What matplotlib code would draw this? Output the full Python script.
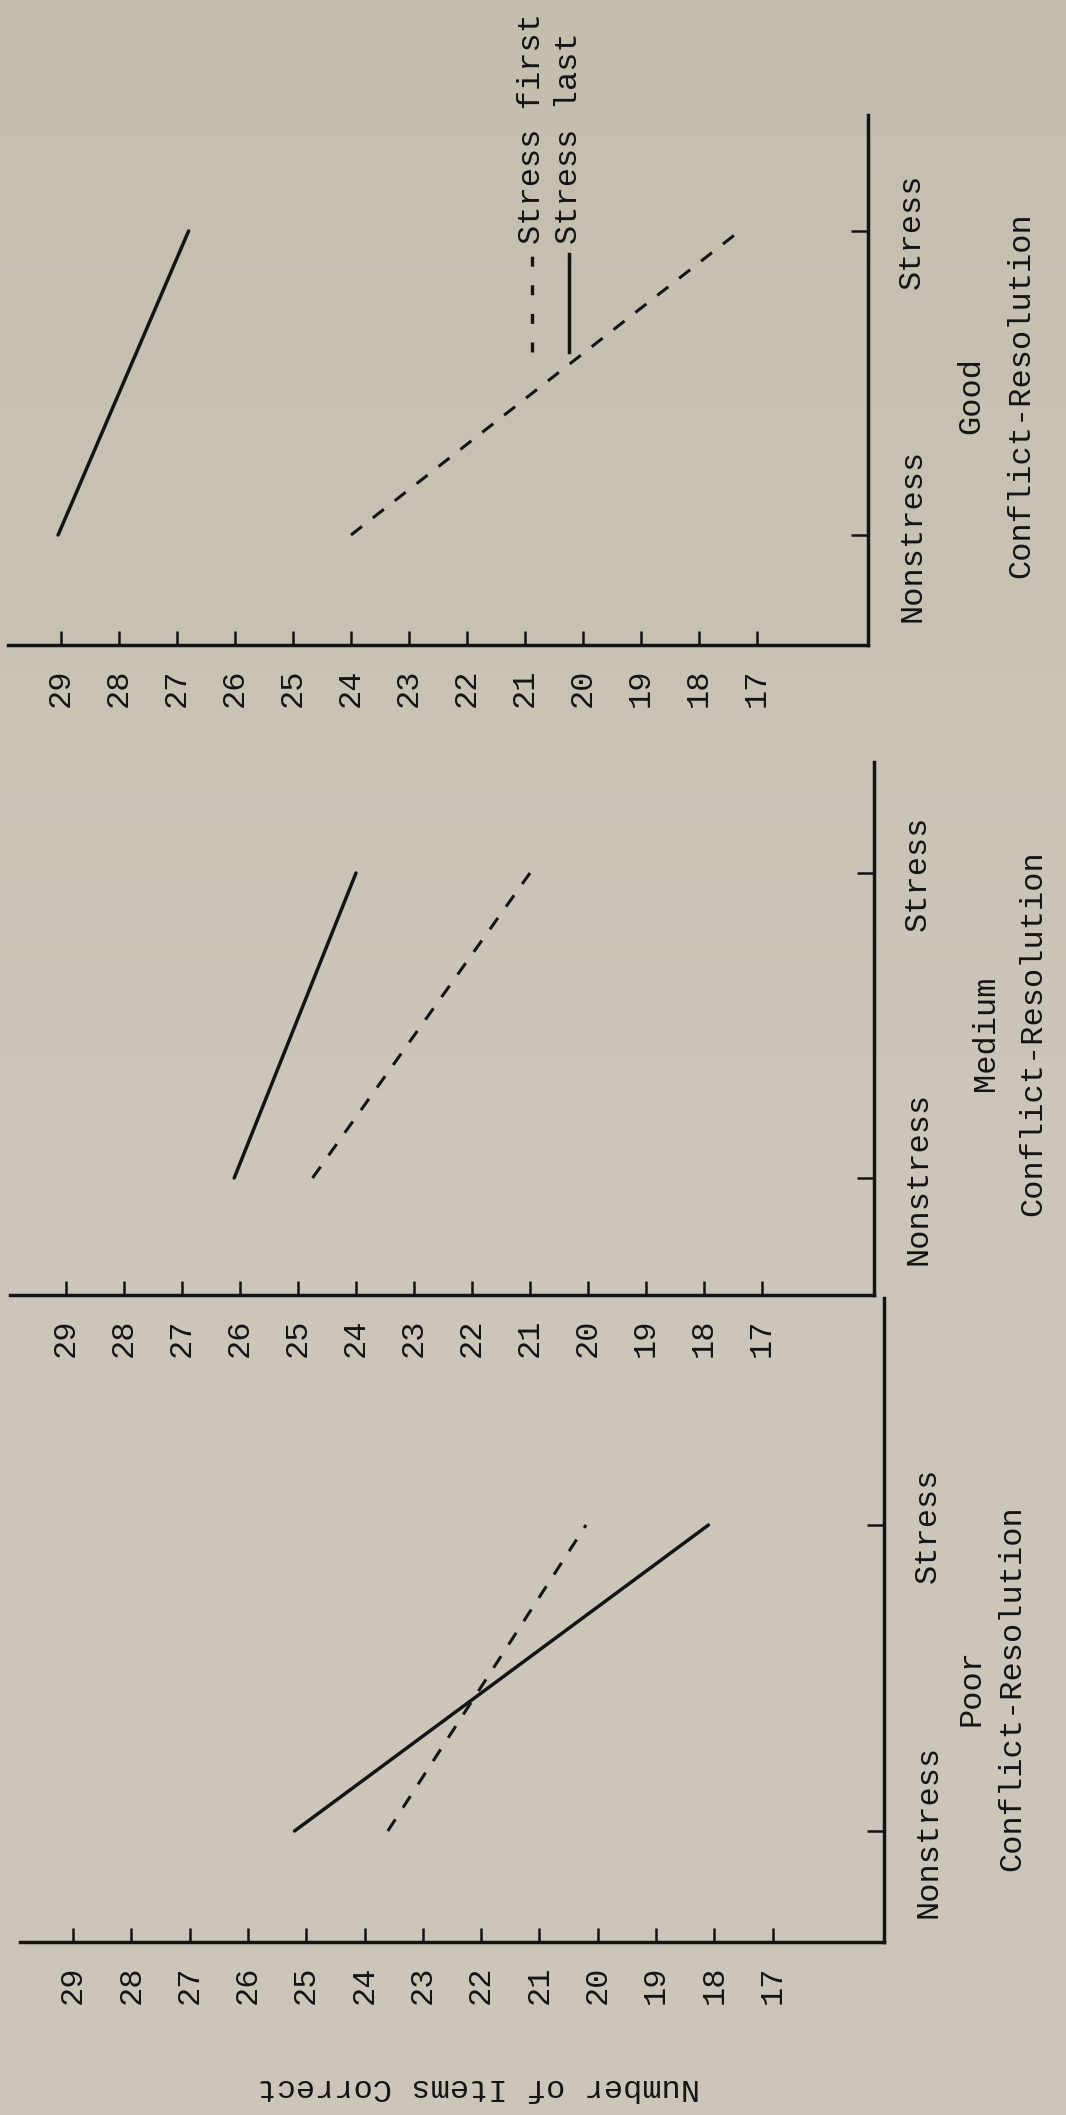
import matplotlib
matplotlib.use('Agg')
import numpy as np
import matplotlib.pyplot as plt
from matplotlib.lines import Line2D
from matplotlib.colors import LinearSegmentedColormap

# ---------------- data ----------------
score_ticks = [29, 28, 27, 26, 25, 24, 23, 22, 21, 20, 19, 18, 17]
conditions = ['Nonstress', 'Stress']
panel_names = ['Poor', 'Medium', 'Good']
group_title = 'Conflict-Resolution'
axis_title = 'Number of Items Correct'
legend_labels = ['Stress first', 'Stress last']

stress_first_poor = [23.6, 20.2]
stress_first_medium = [24.75, 21.0]
stress_first_good = [24.0, 17.3]

stress_last_poor = [25.2, 18.1]
stress_last_medium = [26.1, 24.0]
stress_last_good = [29.05, 26.8]

# ---------------- layout (pixels in the 1066x2115 image) ----------------
W, H = 1066, 2115
BG = '#CBC5B8'
INK = '#141414'
plt.rcParams['font.family'] = ['Liberation Mono', 'DejaVu Sans Mono']
plt.rcParams['lines.scale_dashes'] = False
FS = 23

layout = {
    'Good':   dict(axis_y=645,  top=115,  left=8,  right=868, x29=61, step=58.0, ns_y=535,  s_y=231,
                   grp_dx=128, grp_ls=1.85, grp_dy=12),
    'Medium': dict(axis_y=1295, top=762,  left=10, right=874, x29=66, step=58.0, ns_y=1178, s_y=873,
                   grp_dx=136, grp_ls=1.75, grp_dy=8),
    'Poor':   dict(axis_y=1942, top=1298, left=20, right=884, x29=73, step=58.3, ns_y=1831, s_y=1525,
                   grp_dx=108, grp_ls=1.45, grp_dy=10),
}
series = {
    'Poor': (stress_first_poor, stress_last_poor),
    'Medium': (stress_first_medium, stress_last_medium),
    'Good': (stress_first_good, stress_last_good),
}

fig = plt.figure(figsize=(W / 100, H / 100), dpi=100, facecolor=BG)

# subtle paper tone: slightly darker towards the top
bg_ax = fig.add_axes([0, 0, 1, 1], zorder=-10)
grad = np.clip(np.linspace(1.0, 0.0, 200) * 2.0 - 1.0, 0, 1)[:, None]
paper = LinearSegmentedColormap.from_list('paper', ['#CCC6BA', '#C3BEAE'])
bg_ax.imshow(grad, aspect='auto', cmap=paper, extent=[0, 1, 0, 1], vmin=0, vmax=1)
bg_ax.set_axis_off()

cond_pos = list(range(len(conditions)))
DASH = (0, (10.0, 10.0))

axes = {}
for name in panel_names:
    L = layout[name]
    rect = [L['left'] / W, (H - L['axis_y']) / H,
            (L['right'] - L['left']) / W, (L['axis_y'] - L['top']) / H]
    ax = fig.add_axes(rect)
    ax.set_facecolor('none')
    axes[name] = ax
    first, last = series[name]
    ax.plot(first, cond_pos, color=INK, lw=2.2, linestyle=DASH)
    ax.plot(last, cond_pos, color=INK, lw=2.5, solid_capstyle='round')

    x0 = 29 + (L['x29'] - L['left']) / L['step']
    x1 = 29 - (L['right'] - L['x29']) / L['step']
    ax.set_xlim(x0, x1)
    unit = L['ns_y'] - L['s_y']
    ax.set_ylim(-(L['axis_y'] - L['ns_y']) / unit, 1 + (L['s_y'] - L['top']) / unit)

    for s in ['top', 'left']:
        ax.spines[s].set_visible(False)
    for s in ['bottom', 'right']:
        ax.spines[s].set_linewidth(2.5)
        ax.spines[s].set_color(INK)

    ax.set_xticks(score_ticks)
    ax.set_xticklabels([str(t) for t in score_ticks])
    ax.tick_params(axis='x', direction='in', length=10, width=1.8, pad=17,
                   labelsize=FS, labelrotation=90, colors=INK)
    ax.yaxis.tick_right()
    ax.set_yticks(cond_pos)
    ax.set_yticklabels(conditions)
    ax.tick_params(axis='y', direction='in', length=12, width=1.8, pad=21,
                   labelsize=FS, labelrotation=90, colors=INK)
    for lbl in ax.get_yticklabels():
        lbl.set_va('center')

    ax.annotate(name + '\n' + group_title, xy=(1, 0.5),
                xycoords=('axes fraction', 'data'), xytext=(L['grp_dx'], -L['grp_dy']),
                textcoords='offset pixels', rotation=90, ha='center', va='center',
                multialignment='center', linespacing=L['grp_ls'], fontsize=FS, color=INK)

# y-axis title (upside down under the Poor panel)
axp = axes['Poor']
Lp = layout['Poor']
axp.set_xlabel(axis_title, rotation=180, fontsize=FS, color=INK, ha='center', va='center')
axp.xaxis.set_label_coords((479 - Lp['left']) / (Lp['right'] - Lp['left']),
                           -(2087 - Lp['axis_y']) / (Lp['axis_y'] - Lp['top']))

# legend (rotated, drawn by hand)
def fx(px):
    return px / W

def fy(py):
    return 1 - py / H

leg_cols = [532, 569]
leg_styles = [dict(linestyle=(0, (7.2, 13.4)), lw=2.4), dict(linestyle='-', lw=2.5)]
leg_starts = [256, 254]
for xc, lab, st, y0 in zip(leg_cols, legend_labels, leg_styles, leg_starts):
    fig.lines.append(Line2D([fx(xc), fx(xc)], [fy(352), fy(y0)], color=INK,
                            transform=fig.transFigure, **st))
    fig.text(fx(xc), fy(244), lab, rotation=90, ha='center', va='bottom',
             fontsize=FS, color=INK)

fig.savefig('out.png', dpi=100, facecolor=BG)
